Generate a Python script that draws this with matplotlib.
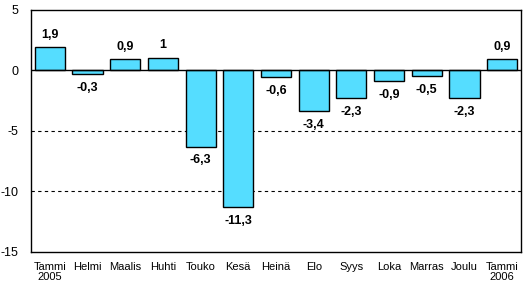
import numpy as np
import matplotlib
matplotlib.use("Agg")
import matplotlib.pyplot as plt

plt.rcParams['font.family'] = ['Liberation Sans', 'DejaVu Sans']

months = ["Tammi\n2005", "Helmi", "Maalis", "Huhti", "Touko", "Kesä", "Heinä",
          "Elo", "Syys", "Loka", "Marras", "Joulu", "Tammi\n2006"]
values = [1.9, -0.3, 0.9, 1.0, -6.3, -11.3, -0.6, -3.4, -2.3, -0.9, -0.5, -2.3, 0.9]
yticks = [5, 0, -5, -10, -15]

fig = plt.figure(figsize=(5.25, 2.84), dpi=100)
ax = fig.add_axes([31 / 525, 1 - 252 / 284, 490 / 525, (252 - 9.5) / 284])

x = np.arange(len(values))
ax.bar(x, values, width=0.8, color="#55DDFF", edgecolor="black", linewidth=1, zorder=3)

ax.set_xlim(-0.5, len(values) - 0.5)
ax.set_ylim(-15, 5)
ax.set_yticks(yticks)
ax.set_yticklabels([str(v) for v in yticks], fontsize=9)
ax.set_xticks(x)
ax.set_xticklabels(months, fontsize=8, linespacing=1.05)
ax.tick_params(axis="both", length=0)
ax.tick_params(axis="y", pad=9)
ax.tick_params(axis="x", pad=7)

for g in [-5, -10]:
    ax.axhline(g, color="black", linestyle=(0, (3, 3)), linewidth=0.8, zorder=1)
ax.axhline(0, color="black", linewidth=1, zorder=4)

for s in ax.spines.values():
    s.set_linewidth(1)

for xi, v in zip(x, values):
    txt = ("%g" % v).replace(".", ",")
    if v >= 0:
        ax.annotate(txt, (xi, v), xytext=(0, 9), textcoords="offset points",
                    ha="center", va="center", fontsize=9, fontweight="bold")
    else:
        ax.annotate(txt, (xi, v), xytext=(0, -10), textcoords="offset points",
                    ha="center", va="center", fontsize=9, fontweight="bold")

fig.savefig("out.png", dpi=100)
